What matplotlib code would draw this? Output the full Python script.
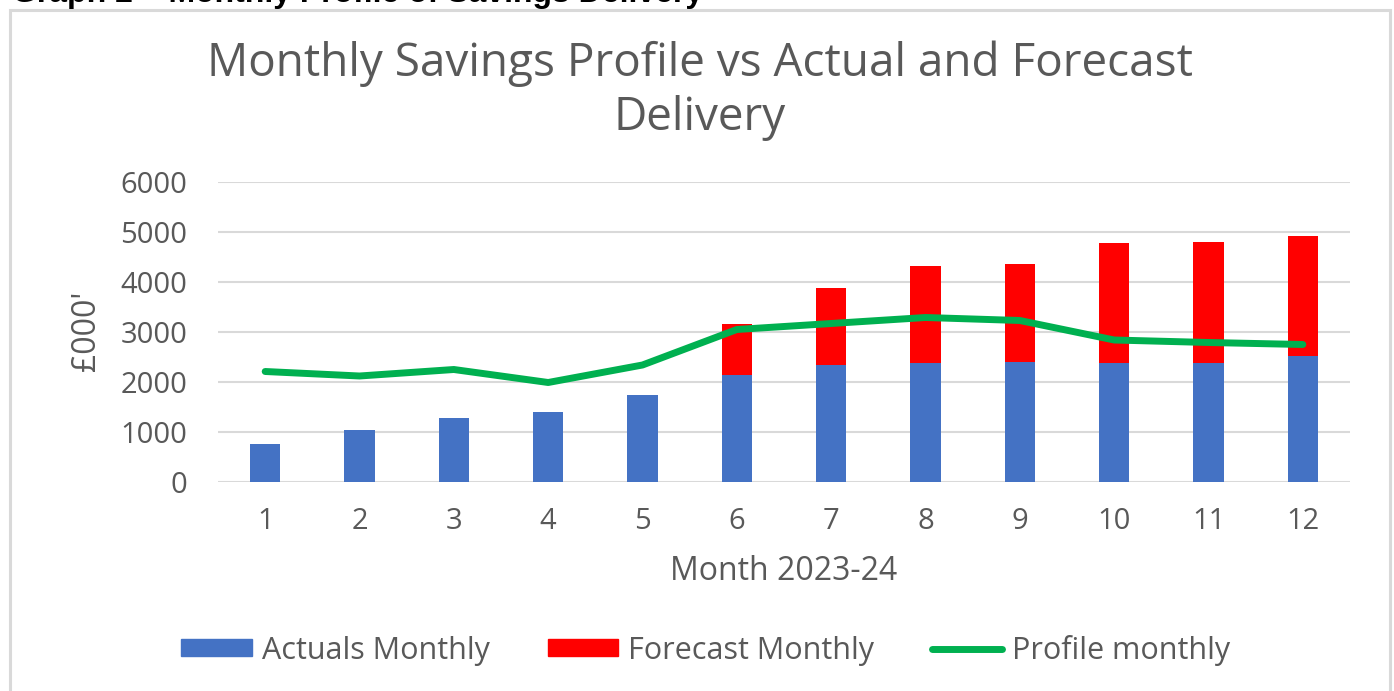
import matplotlib.pyplot as plt
from matplotlib.patches import Rectangle
from matplotlib.lines import Line2D

# data (£000)
months = [1, 2, 3, 4, 5, 6, 7, 8, 9, 10, 11, 12]
actuals = [760, 1040, 1280, 1400, 1740, 2140, 2340, 2380, 2410, 2380, 2380, 2530]
forecast = [0, 0, 0, 0, 0, 1020, 1540, 1950, 1950, 2410, 2430, 2400]
profile = [2210, 2120, 2250, 1990, 2340, 3050, 3170, 3290, 3230, 2840, 2790, 2750]
yticks = [0, 1000, 2000, 3000, 4000, 5000, 6000]

plt.rcParams['font.family'] = ['Open Sans', 'DejaVu Sans']
grey = '#595959'

fig = plt.figure(figsize=(13.94, 6.91), dpi=100)
W, H = 1394, 691

# frame around the chart
fig.patches.append(Rectangle((10 / W, -0.05), 1379.5 / W, (H - 10) / H + 0.05,
                             transform=fig.transFigure, fill=False,
                             edgecolor='#d9d9d9', linewidth=2.2))

# caption above the frame (clipped at top in the original)
fig.text(12 / W, 1 - 2 / H, 'Graph 2 \u2013 Monthly Profile of Savings Delivery',
         family='Liberation Sans', weight='bold', fontsize=23, color='black',
         ha='left', va='baseline')

ax = fig.add_axes([218 / W, 1 - 482 / H, 1132 / W, 300 / H])

ax.bar(months, actuals, width=0.32, color='#4472c4', zorder=2, label='Actuals Monthly')
ax.bar(months, forecast, width=0.32, bottom=actuals, color='#ff0000', zorder=2,
       label='Forecast Monthly')
ax.plot(months, profile, color='#00b050', linewidth=5, zorder=3,
        solid_capstyle='round', label='Profile monthly')

ax.set_xlim(0.5, 12.5)
ax.set_ylim(0, 6000)
ax.set_yticks(yticks)
ax.set_xticks(months)
ax.grid(axis='y', color='#d9d9d9', linewidth=1.5, zorder=0)
ax.set_axisbelow(True)
for s in ax.spines.values():
    s.set_visible(False)
ax.tick_params(length=0, labelsize=21, labelcolor=grey)
ax.tick_params(axis='y', pad=22)
ax.tick_params(axis='x', pad=18)

ax.set_xlabel('Month 2023-24', fontsize=23, color=grey, labelpad=14)
fig.text(86 / W, 1 - 331 / H, "\u00a3000'", rotation=90, fontsize=23, color=grey,
         ha='center', va='center')

fig.text(700 / W, 1 - 64 / H, 'Monthly Savings Profile vs Actual and Forecast',
         fontsize=33, color=grey, ha='center', va='center')
fig.text(700 / W, 1 - 118 / H, 'Delivery', fontsize=33, color=grey,
         ha='center', va='center')

handles = [Rectangle((0, 0), 1, 1, color='#4472c4'),
           Rectangle((0, 0), 1, 1, color='#ff0000'),
           Line2D([0], [0], color='#00b050', linewidth=5, solid_capstyle='round')]
fig.legend(handles, ['Actuals Monthly', 'Forecast Monthly', 'Profile monthly'],
           loc='center', bbox_to_anchor=(706 / W, 1 - 650 / H), ncol=3,
           frameon=False, fontsize=22, labelcolor=grey, handlelength=2.3,
           handleheight=0.5, handletextpad=0.33, columnspacing=1.9)

fig.savefig('out.png', dpi=100)
